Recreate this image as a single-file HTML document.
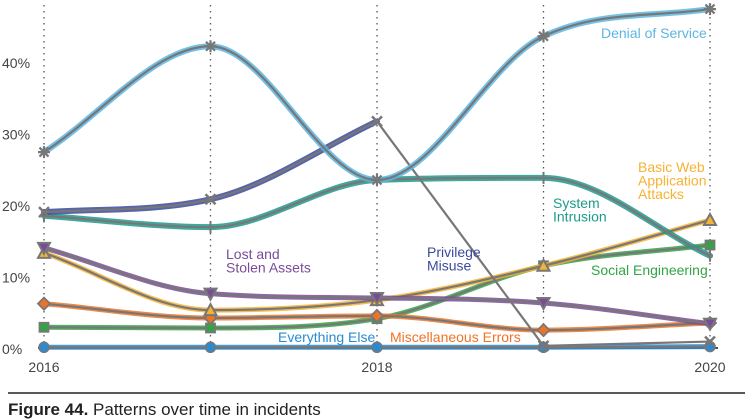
<!DOCTYPE html>
<html><head><meta charset="utf-8"><style>
body{margin:0;background:#fff;width:745px;height:419px;overflow:hidden;font-family:"Liberation Sans",sans-serif}
svg{display:block}
</style></head><body>
<svg id="chart" width="745" height="419" xmlns="http://www.w3.org/2000/svg" font-family="Liberation Sans, sans-serif">
<g id="grid"></g><g id="series"></g><g id="labels"></g>
<line x1="8" y1="393" x2="745" y2="393" stroke="#222" stroke-width="1.5"/>
<text x="8" y="415" font-size="17" fill="#222"><tspan font-weight="bold">Figure 44.</tspan> Patterns over time in incidents</text>
</svg>
<script>
const years=[2016,2017,2018,2019,2020];
const yTicks=[0,10,20,30,40];
const xTickLabels=["2016","2018","2020"];
const dos=[27.4,42.2,23.5,43.6,47.4];
const privilege=[19.0,20.8,31.7,0.3,0.9];
const intrusion=[18.5,16.9,23.5,23.8,12.9];
const lost=[14.0,7.6,7.0,6.3,3.4];
const basicWeb=[13.3,5.3,6.7,11.5,17.9];
const misc=[6.2,4.2,4.5,2.5,3.5];
const social=[2.9,2.8,4.1,11.5,14.4];
const everything=[0.1,0.1,0.1,0.1,0.2];
const seriesNames=["denial-of-service","privilege-misuse","system-intrusion","lost-and-stolen-assets","basic-web-application-attacks","miscellaneous-errors","social-engineering","everything-else"];
const seriesValues=[dos,privilege,intrusion,lost,basicWeb,misc,social,everything];
const colors=["#5cb6e2","#3b4a9c","#1d9a8c","#7b4b9b","#f6b232","#ef7325","#33a445","#2a8bd2"];
const markers=["star","x","plus","tdown","tup","diamond","square","circle"];
const NS="http://www.w3.org/2000/svg";
const x=y=>44+(y-2016)*166.5;
const yS=v=>348-v*7.15;
function mk(t,a,p){const e=document.createElementNS(NS,t);for(const k in a)e.setAttribute(k,a[k]);p.appendChild(e);return e;}
const grid=document.getElementById('grid');
years.forEach(yr=>{
const l=mk('line',{x1:x(yr),y1:5,x2:x(yr),y2:348,stroke:'#555','stroke-width':1.3,'stroke-dasharray':'1.5,4.5'},grid);


});
yTicks.forEach(t=>{
const e=mk('text',{x:2,y:yS(t)+6,'font-size':14,fill:'#444'},grid);e.textContent=t+'%';


});
xTickLabels.forEach(t=>{
const e=mk('text',{x:x(+t),y:372,'font-size':14,fill:'#444','text-anchor':'middle'},grid);e.textContent=t;


});
const ax=mk('line',{x1:38,y1:348,x2:718,y2:348,stroke:'#111','stroke-width':1.5},grid);


function monotone(xs,ys){
const n=xs.length,d=[],m=[];
for(let i=0;i<n-1;i++)d.push((ys[i+1]-ys[i])/(xs[i+1]-xs[i]));
m[0]=d[0];m[n-1]=d[n-2];
for(let i=1;i<n-1;i++){m[i]=(d[i-1]*d[i]<=0)?0:(d[i-1]+d[i])/2;}
for(let i=0;i<n-1;i++){if(d[i]===0){m[i]=m[i+1]=0;continue;}const a=m[i]/d[i],b=m[i+1]/d[i],s=a*a+b*b;if(s>9){const t=3/Math.sqrt(s);m[i]=t*a*d[i];m[i+1]=t*b*d[i];}}
let p='M'+xs[0]+','+ys[0];
for(let i=0;i<n-1;i++){const h=(xs[i+1]-xs[i])/3;p+=` C${xs[i]+h},${ys[i]+m[i]*h} ${xs[i+1]-h},${ys[i+1]-m[i+1]*h} ${xs[i+1]},${ys[i+1]}`;}
return p;}
function marker(type,cx,cy,c,g){
const gr='#777';let e;
if(type==='star'){e=mk('path',{d:`M${cx-6},${cy}H${cx+6}M${cx},${cy-6}V${cy+6}M${cx-4.5},${cy-4.5}L${cx+4.5},${cy+4.5}M${cx-4.5},${cy+4.5}L${cx+4.5},${cy-4.5}`,stroke:gr,'stroke-width':2.2},g);}
else if(type==='x'){e=mk('path',{d:`M${cx-5},${cy-5}L${cx+5},${cy+5}M${cx-5},${cy+5}L${cx+5},${cy-5}`,stroke:gr,'stroke-width':2.5},g);}
else if(type==='plus'){e=mk('path',{d:`M${cx},${cy-6}V${cy+6}M${cx-3},${cy}H${cx+3}`,stroke:gr,'stroke-width':2},g);}
else if(type==='tdown'){e=mk('path',{d:`M${cx-6},${cy-5}H${cx+6}L${cx},${cy+6}Z`,fill:c,stroke:gr,'stroke-width':2},g);}
else if(type==='tup'){e=mk('path',{d:`M${cx-6},${cy+5}H${cx+6}L${cx},${cy-6}Z`,fill:c,stroke:gr,'stroke-width':2},g);}
else if(type==='diamond'){e=mk('path',{d:`M${cx},${cy-6}L${cx+6},${cy}L${cx},${cy+6}L${cx-6},${cy}Z`,fill:c,stroke:gr,'stroke-width':1.8},g);}
else if(type==='square'){e=mk('rect',{x:cx-4.5,y:cy-4.5,width:9,height:9,fill:c,stroke:gr,'stroke-width':1.8},g);}
else {e=mk('circle',{cx:cx,cy:cy,r:5,fill:c,stroke:gr,'stroke-width':1.5},g);}
return e;}
const sg=document.getElementById('series');
seriesValues.slice().reverse().forEach((vals,ri)=>{
const i=seriesValues.length-1-ri;
const g=mk('g',{},sg);


const xs=years.map(x),ys=vals.map(yS);
const w=(i<3)?6:5;
let bandD, lineD;
if(i===1){
bandD=monotone(xs.slice(0,3),ys.slice(0,3));
lineD=bandD+` L${xs[3]},${ys[3]} L${xs[4]},${ys[4]}`;
}else{bandD=monotone(xs,ys);lineD=bandD;}
const p1=mk('path',{d:bandD,fill:'none',stroke:colors[i],'stroke-width':w,'stroke-linecap':'round',opacity:0.85},g);


const p2=mk('path',{d:lineD,fill:'none',stroke:'#777','stroke-width':2.2},g);


vals.forEach((v,j)=>{
const m=marker(markers[i],x(years[j]),yS(v),colors[i],g);


});
});
const labels=[
["denial-of-service-label",["Denial of Service"],601,38,0],
["privilege-misuse-label",["Privilege","Misuse"],427,257,1],
["system-intrusion-label",["System","Intrusion"],553,208,2],
["lost-stolen-label",["Lost and","Stolen Assets"],226,259,3],
["basic-web-label",["Basic Web","Application","Attacks"],638,172,4],
["misc-errors-label",["Miscellaneous Errors"],390,342,5],
["social-engineering-label",["Social Engineering"],591,275,6],
["everything-else-label",["Everything Else"],278,342,7]];
const lg=document.getElementById('labels');
labels.forEach(([n,lines,lx,ly,ci])=>{
const t=mk('text',{x:lx,y:ly,'font-size':14,fill:colors[ci]},lg);


lines.forEach((s,k)=>{const ts=mk('tspan',{x:lx,dy:k?13.5:0},t);ts.textContent=s;});
});
</script>
</body></html>
